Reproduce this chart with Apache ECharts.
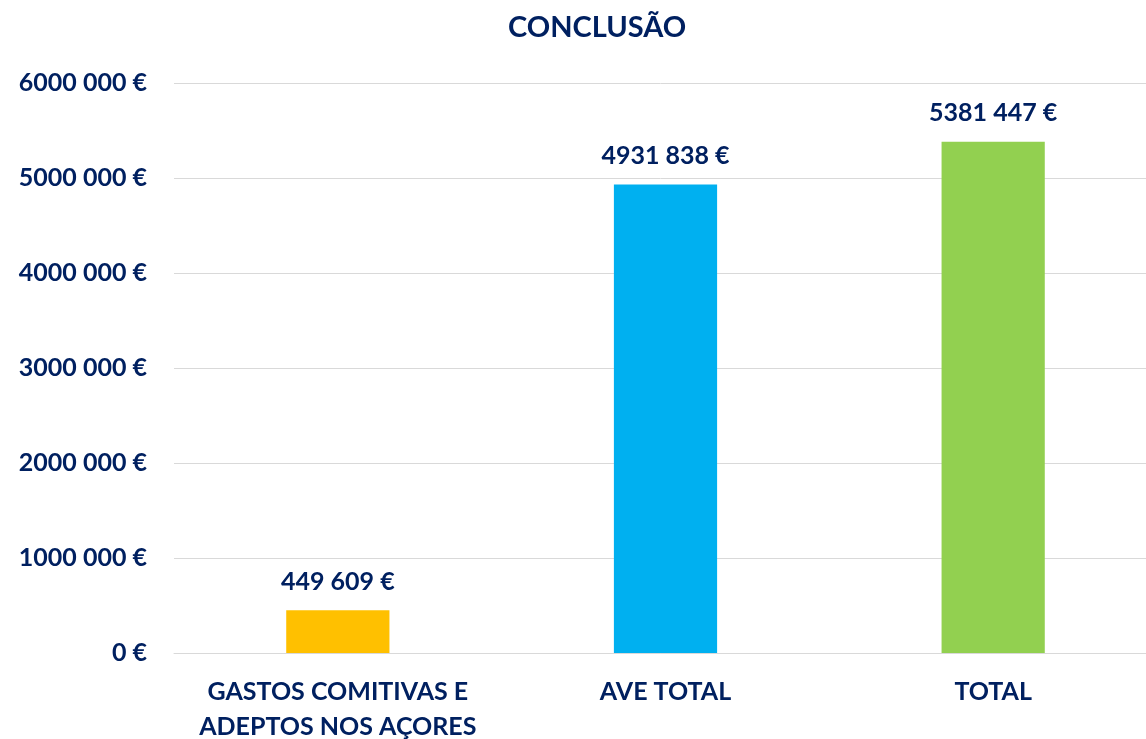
<!DOCTYPE html>
<html>
<head>
<meta charset="utf-8">
<script src="https://cdn.jsdelivr.net/npm/echarts@6/dist/echarts.min.js"></script>
<style>html,body{margin:0;padding:0;background:#fff}#c{width:1146px;height:739px}</style>
</head>
<body>
<div id="c"></div>
<script>
const titleText = 'CONCLUSÃO';
const categories = ['GASTOS COMITIVAS E\nADEPTOS NOS AÇORES', 'AVE TOTAL', 'TOTAL'];
const values = [449609, 4931838, 5381447];
const barColors = ['#FFC000', '#00B0F0', '#92D050'];
const yTicks = [0, 1000000, 2000000, 3000000, 4000000, 5000000, 6000000];

function fmt(v) {
  const s = String(Math.round(v));
  return (s.length > 3 ? s.slice(0, -3) + ' ' + s.slice(-3) : s) + ' €';
}
const navy = '#002060';
const font = 'Lato';
const chart = echarts.init(document.getElementById('c'));
chart.setOption({
  animation: false,
  title: {
    text: titleText, left: 503, top: 8,
    textStyle: { color: navy, fontFamily: font, fontWeight: 'bold', fontSize: 29 }
  },
  grid: { left: 174, right: -11, top: 83, bottom: 86, containLabel: false, outerBoundsMode: 'none' },
  xAxis: {
    type: 'category', data: categories,
    axisLine: { lineStyle: { color: '#D9D9D9', width: 1 } },
    axisTick: { show: false },
    axisLabel: { interval: 0, hideOverlap: false, color: navy, fontFamily: font, fontWeight: 'bold', fontSize: 25, lineHeight: 35, margin: 21 }
  },
  yAxis: {
    type: 'value', min: 0, max: yTicks[yTicks.length - 1], interval: 1000000,
    axisLine: { show: false }, axisTick: { show: false },
    splitLine: { lineStyle: { color: '#D9D9D9', width: 1 } },
    axisLabel: { color: navy, fontFamily: font, fontWeight: 'bold', fontSize: 25, margin: 27, formatter: fmt }
  },
  series: [{
    type: 'bar', barWidth: '31.5%',
    data: values.map((v, i) => ({ value: v, itemStyle: { color: barColors[i] } })),
    label: {
      show: true, position: 'top', distance: 16, color: navy,
      fontFamily: font, fontWeight: 'bold', fontSize: 25, formatter: p => fmt(p.value)
    }
  }]
});
</script>
</body>
</html>
